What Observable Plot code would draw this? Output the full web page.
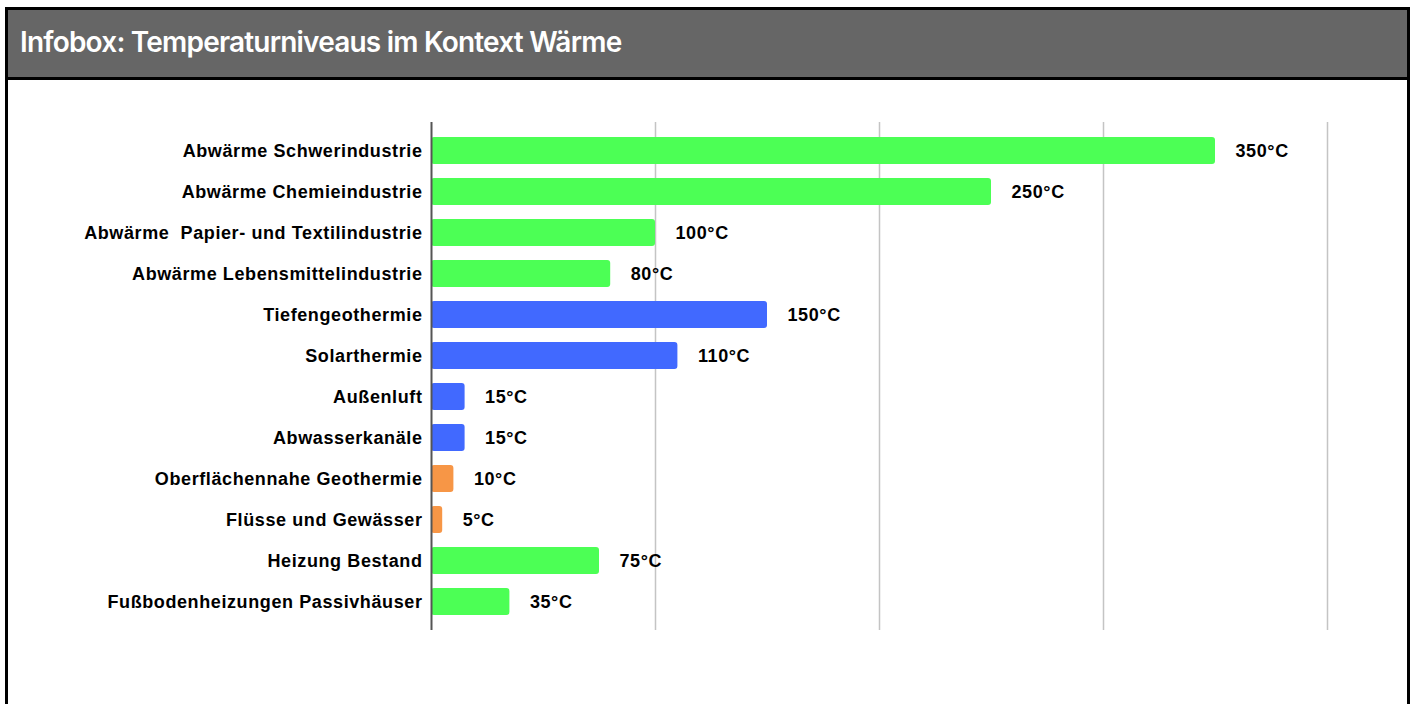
<!DOCTYPE html>
<html>
<head>
<meta charset="utf-8">
<script src="https://cdn.jsdelivr.net/npm/d3@7"></script>
<script src="https://cdn.jsdelivr.net/npm/@observablehq/plot@0.6"></script>
<style>
  html, body { margin: 0; padding: 0; background: #fff; overflow: hidden; }
  #box { position: absolute; left: 5px; top: 7px; width: 1399px; height: 720px; border: 3px solid #000; background: #fff; }
  #title { height: 67px; background: #666666; border-bottom: 3px solid #000; color: #fff;
           font-family: Inter, "Open Sans", sans-serif; font-weight: 600; font-size: 28px; letter-spacing: -0.8px;
           line-height: 64px; padding-left: 12px; box-sizing: content-box; }
  #chart svg { display: block; }
  #chart svg text { letter-spacing: 0.6px; }
</style>
</head>
<body>
<div id="box">
  <div id="title">Infobox: Temperaturniveaus im Kontext Wärme</div>
  <div id="chart"></div>
</div>
<script>
const categories = [
  "Abwärme Schwerindustrie",
  "Abwärme Chemieindustrie",
  "Abwärme\u00a0 Papier- und Textilindustrie",
  "Abwärme Lebensmittelindustrie",
  "Tiefengeothermie",
  "Solarthermie",
  "Außenluft",
  "Abwasserkanäle",
  "Oberflächennahe Geothermie",
  "Flüsse und Gewässer",
  "Heizung Bestand",
  "Fußbodenheizungen Passivhäuser"
];
const values = [350, 250, 100, 80, 150, 110, 15, 15, 10, 5, 75, 35];
const groups = ["hoch","hoch","hoch","hoch","mittel","mittel","mittel","mittel","niedrig","niedrig","hoch","hoch"];
const groupNames = ["hoch", "mittel", "niedrig"];
const groupColors = ["#4cff55", "#4169ff", "#f79646"];
const gridTicks = [100, 200, 300, 400];

const data = categories.map((c, i) => ({name: c, value: values[i], group: groups[i]}));

const chart = Plot.plot({
  width: 1399,
  height: 614,
  marginLeft: 423,
  marginRight: 80,
  marginTop: 42,
  marginBottom: 64,
  style: { fontFamily: "'Liberation Sans', Arial, sans-serif", fontSize: "18px", color: "#000" },
  x: { domain: [0, 400], axis: null },
  y: { domain: categories, paddingInner: 0.34, paddingOuter: 0.35, label: null },
  color: { domain: groupNames, range: groupColors },
  marks: [
    Plot.ruleX(gridTicks, { stroke: "#c4c4c4", strokeWidth: 1.5 }),
    Plot.barX(data, { y: "name", x: "value", fill: "group", rx: 3 }),
    Plot.ruleX([0], { stroke: "#555", strokeWidth: 2 }),
    Plot.text(data, { y: "name", x: "value", text: d => d.value + "°C", dx: 20, textAnchor: "start",
      fontWeight: "bold", fontSize: 18, fill: "#000" }),
    Plot.axisY({ tickSize: 0, tickPadding: 9, fontWeight: "bold", fontSize: 18, fill: "#000", label: null })
  ]
});
document.getElementById("chart").appendChild(chart);
</script>
</body>
</html>
